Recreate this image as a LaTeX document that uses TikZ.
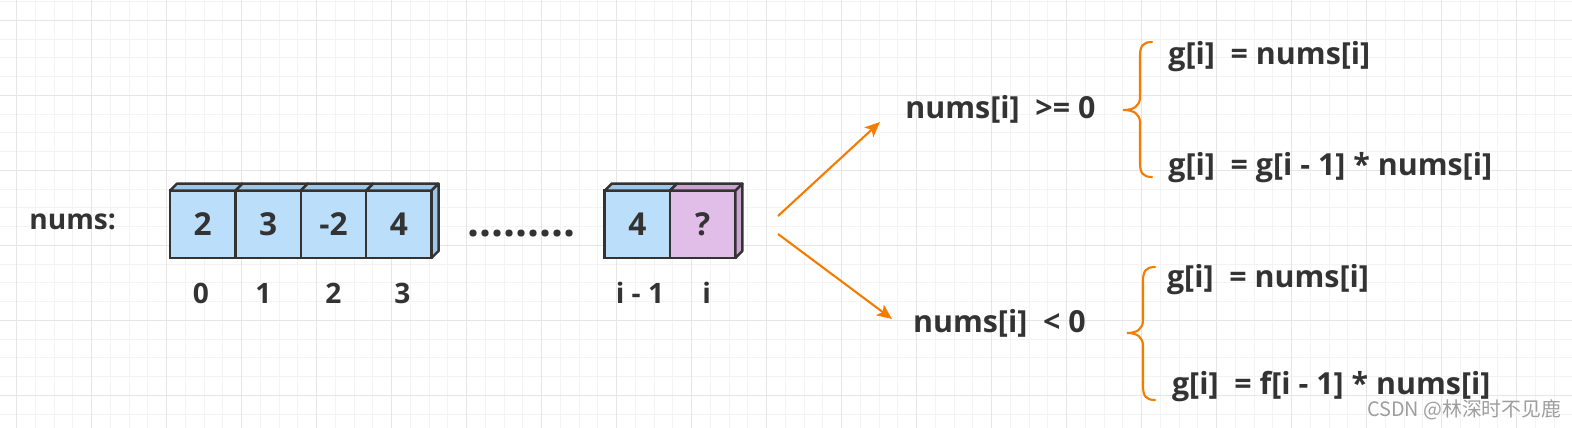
\documentclass[tikz,border=0pt]{standalone}
\usepackage{fontspec}
\setmainfont{Open Sans}
\newfontfamily\cjkfont{Noto Sans CJK SC}
\usetikzlibrary{arrows.meta, positioning}

\definecolor{inkc}{HTML}{333333}
\definecolor{cellblue}{HTML}{BBDEFB}
\definecolor{cellbluetop}{HTML}{9EC6E6}
\definecolor{cellpurple}{HTML}{E1BEE7}
\definecolor{cellpurpletop}{HTML}{CBA3D0}
\definecolor{arrowc}{HTML}{F57C00}
\definecolor{gridminor}{HTML}{F3F3F3}
\definecolor{gridmajor}{HTML}{E6E6E6}

\tikzset{
  cell/.style={draw=inkc, line width=1.4pt, fill=cellblue, outer sep=0pt, inner sep=0pt,
    minimum width=1.308cm, minimum height=1.346cm, text=inkc,
    font=\fontsize{18}{21}\selectfont\bfseries},
  cellq/.style={fill=cellpurple},
  topface/.style={draw=inkc, line width=1.4pt, line join=round, fill=cellbluetop},
  label/.style={text=inkc, inner sep=0pt, font=\fontsize{16}{19}\selectfont\bfseries},
  formula/.style={label, font=\fontsize{17.3}{20}\selectfont\bfseries},
  branch/.style={draw=arrowc, line width=1.2pt, -{Stealth[length=3mm, width=2.6mm, inset=0.7mm]}},
  curly/.style={draw=arrowc, line width=1.2pt, line cap=round}
}

\begin{document}
\begin{tikzpicture}[x=0.02cm, y=-0.02cm]
\useasboundingbox (0,0) rectangle (1572,428);

% grid paper
\foreach \k in {0,...,84} \draw[gridminor, line width=0.6pt] ({-2.05+18.75*\k},0) -- ++(0,428);
\foreach \k in {0,...,22} \draw[gridminor, line width=0.6pt] (0,{1.7+18.75*\k}) -- ++(1572,0);
\foreach \k in {0,...,20} \draw[gridmajor, line width=0.6pt] ({16.7+75*\k},0) -- ++(0,428);
\foreach \k in {0,...,5} \draw[gridmajor, line width=0.6pt] (0,{20.7+75*\k}) -- ++(1572,0);

% array
\node[label, anchor=base west] (numslbl) at (29,229.3) {nums:};
\node[cell] (n0) at (202.7,224.3) {2};
\node[cell, right=0pt of n0] (n1) {3};
\node[cell, right=0pt of n1] (n2) {-2};
\node[cell, right=0pt of n2] (n3) {4};
\foreach \n in {n0,n1,n2,n3}
  \draw[topface] (\n.north west) -- ++(7,-7) -- ++(65.4,0) -- (\n.north east) -- cycle;
\draw[topface] (n3.north east) -- ++(7,-7) -- ++(0,67.3) -- (n3.south east) -- cycle;

\node[label, anchor=base, font=\fontsize{24}{24}\selectfont\bfseries] (gap) at (521.5,236.5) {.........};

\node[cell] (m0) at (637.3,224.3) {4};
\node[cell, cellq, right=0pt of m0] (m1) {?};
\draw[topface] (m0.north west) -- ++(7,-7) -- ++(65.4,0) -- (m0.north east) -- cycle;
\draw[topface, fill=cellpurpletop] (m1.north west) -- ++(7,-7) -- ++(65.4,0) -- (m1.north east) -- cycle;
\draw[topface, fill=cellpurpletop] (m1.north east) -- ++(7,-7) -- ++(0,67.3) -- (m1.south east) -- cycle;

% indices
\node[label, anchor=base] (i0) at (201,303.3) {0};
\node[label, anchor=base] (i1) at (263.3,303.3) {1};
\node[label, anchor=base] (i2) at (333.3,303.3) {2};
\node[label, anchor=base] (i3) at (402.3,303.3) {3};
\node[label, anchor=base] (im1) at (640,303.3) {i - 1};
\node[label, anchor=base] (ii) at (706.7,303.3) {i};

% branches
\coordinate (forkA) at (778,216);
\coordinate (forkB) at (778,234);
\coordinate (tipA) at (880,122);
\coordinate (tipB) at (892,319);
\draw[branch] (forkA) -- (tipA);
\draw[branch] (forkB) -- (tipB);
\node[formula, anchor=base west] (pos) at (905,118.3) {nums[i]\ \ >= 0};
\node[formula, anchor=base west] (neg) at (912.7,332.3) {nums[i]\ \ < 0};

% upper case
\draw[curly] (1152,42) .. controls (1143,42) and (1140,46) .. (1140,56) -- (1140,97)
  .. controls (1140,106) and (1134,110) .. (1123,110)
  .. controls (1134,110) and (1140,114) .. (1140,123) -- (1140,163)
  .. controls (1140,173) and (1143,177) .. (1152,177);
\node[formula, anchor=base west] (posa) at (1168,65) {g[i]\ \ = nums[i]};
\node[formula, anchor=base west] (posb) at (1168,175.5) {g[i]\ \ = g[i - 1] * nums[i]};

% lower case
\draw[curly] (1155,267) .. controls (1146,267) and (1143,271) .. (1143,281) -- (1143,320)
  .. controls (1143,329) and (1137,333) .. (1127,333)
  .. controls (1137,333) and (1143,337) .. (1143,346) -- (1143,386)
  .. controls (1143,396) and (1146,400) .. (1155,400);
\node[formula, anchor=base west] (nega) at (1166.7,287.3) {g[i]\ \ = nums[i]};
\node[formula, anchor=base west] (negb) at (1171.7,395) {g[i]\ \ = f[i - 1] * nums[i]};

% watermark
\node[anchor=base west, inner sep=0pt, text=black!38, font=\cjkfont\fontsize{11.3}{13}\selectfont] (mark) at (1366.7,416.7) {CSDN @林深时不见鹿};
\end{tikzpicture}
\end{document}
